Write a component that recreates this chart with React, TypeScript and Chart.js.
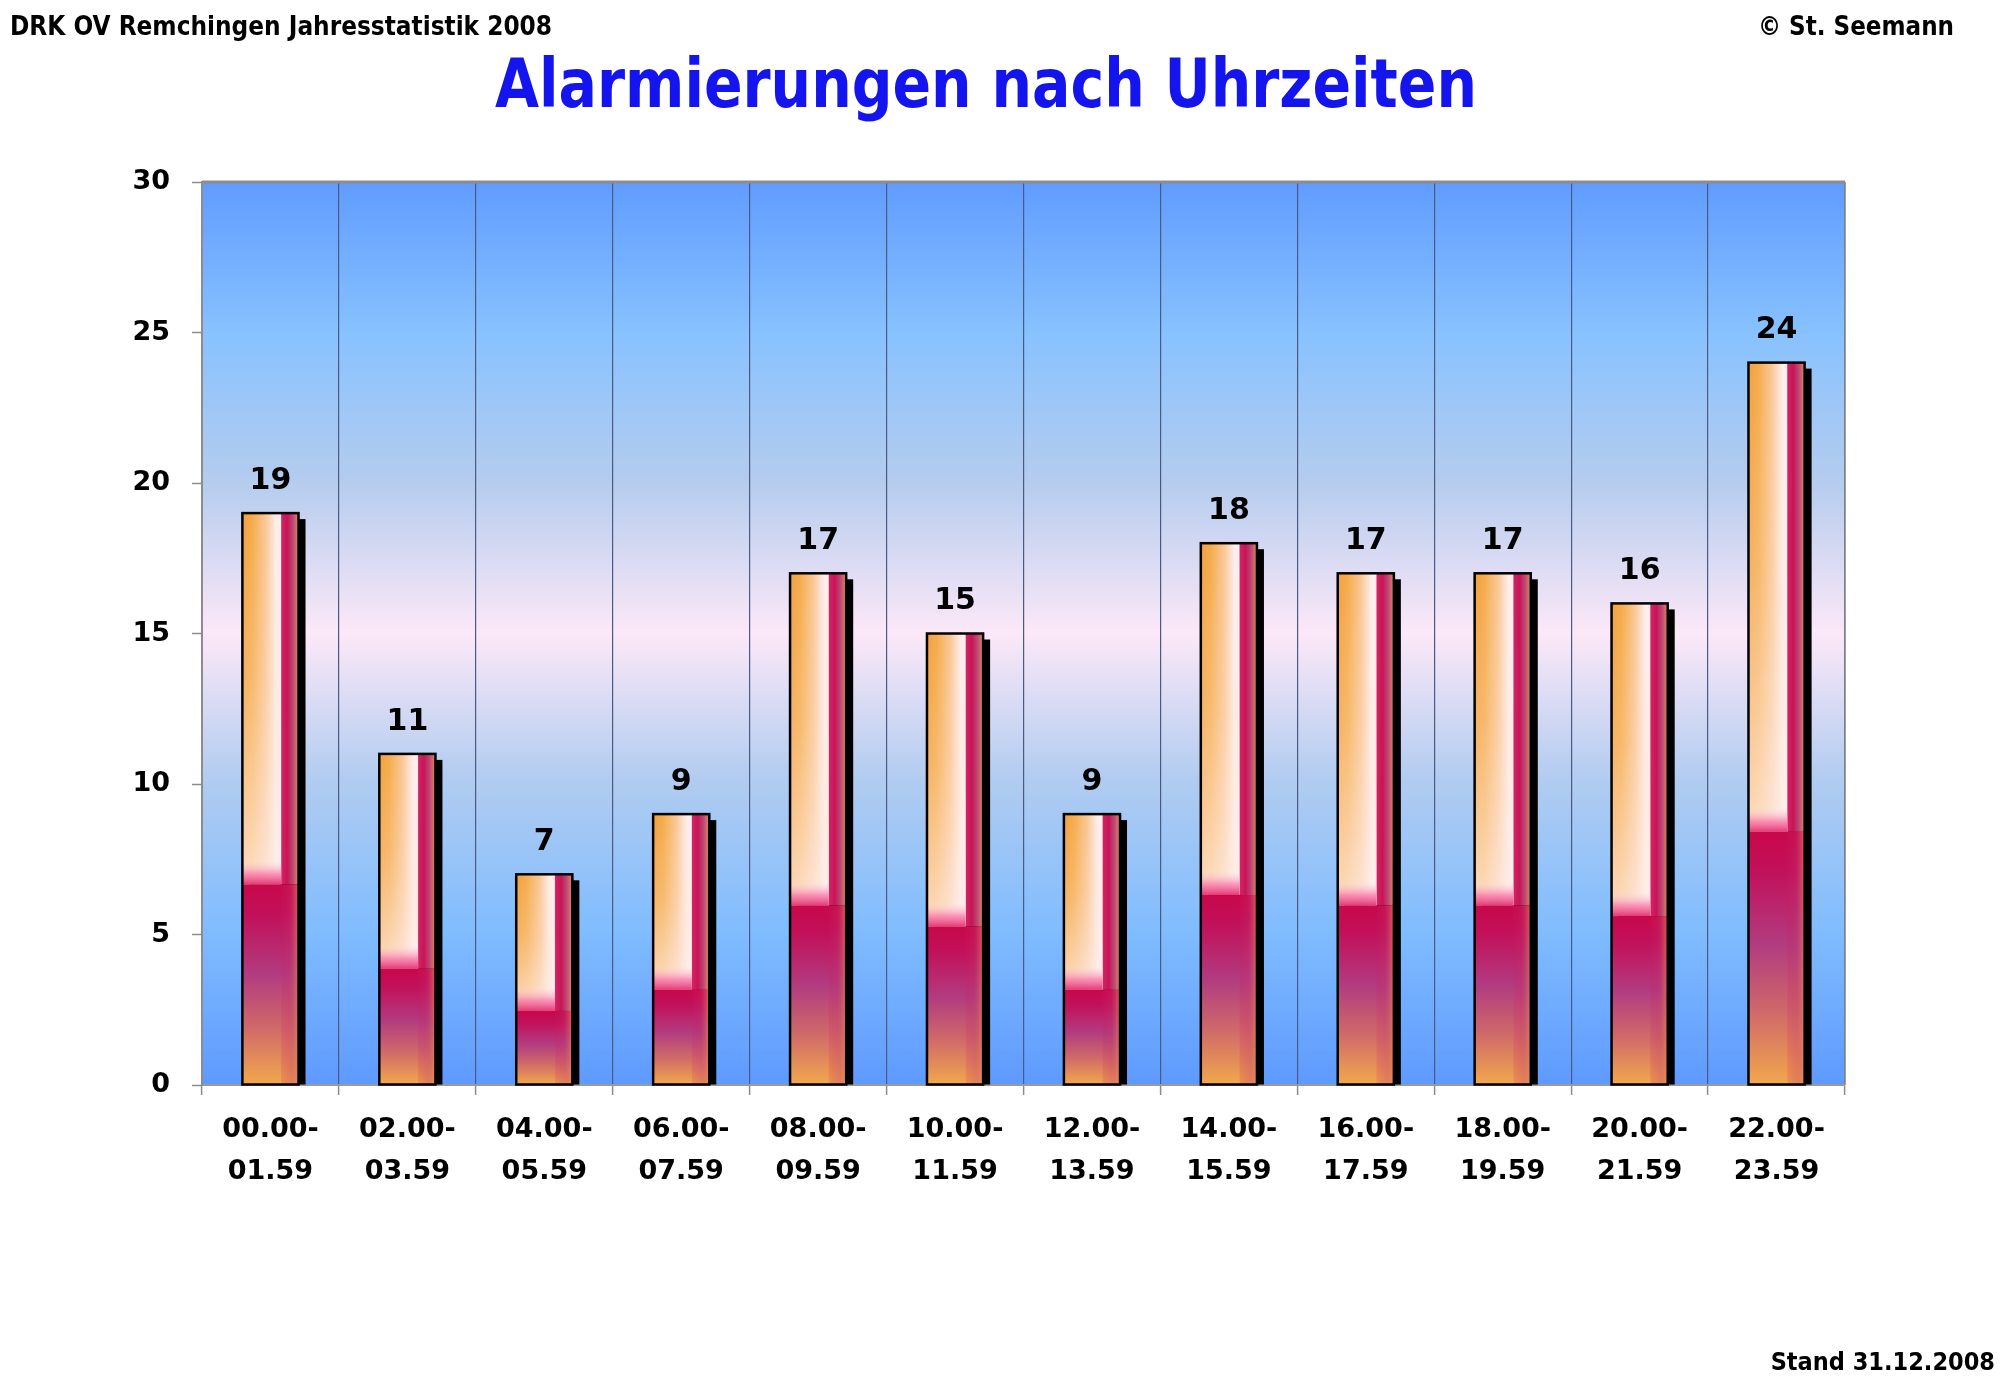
import React, { useEffect, useRef } from 'react';
import { Chart, registerables } from 'chart.js';

Chart.register(...registerables);

const categories: string[][] = [
  ['00.00-', '01.59'],
  ['02.00-', '03.59'],
  ['04.00-', '05.59'],
  ['06.00-', '07.59'],
  ['08.00-', '09.59'],
  ['10.00-', '11.59'],
  ['12.00-', '13.59'],
  ['14.00-', '15.59'],
  ['16.00-', '17.59'],
  ['18.00-', '19.59'],
  ['20.00-', '21.59'],
  ['22.00-', '23.59'],
];
const values: number[] = [19, 11, 7, 9, 17, 15, 9, 18, 17, 17, 16, 24];
const yMin = 0;
const yMax = 30;
const yStep = 5;

const headerLeft = 'DRK OV Remchingen Jahresstatistik 2008';
const headerRight = '© St. Seemann';
const titleText = 'Alarmierungen nach Uhrzeiten';
const footerText = 'Stand 31.12.2008';

const FONT = '"DejaVu Sans Condensed", "DejaVu Sans", sans-serif';
const FONT_WIDE = '"DejaVu Sans", sans-serif';

function drawFitted(
  ctx: CanvasRenderingContext2D,
  text: string,
  x: number,
  y: number,
  align: CanvasTextAlign,
  size: number,
  maxW: number,
  color: string,
  family: string
) {
  ctx.save();
  ctx.font = `bold ${size}px ${family}`;
  const w = ctx.measureText(text).width;
  const sx = w > maxW ? maxW / w : 1;
  ctx.translate(x, y);
  ctx.scale(sx, 1);
  ctx.textAlign = align;
  ctx.textBaseline = 'alphabetic';
  ctx.fillStyle = color;
  ctx.fillText(text, 0, 0);
  ctx.restore();
}

function drawFancyBar(ctx: CanvasRenderingContext2D, x: number, top: number, base: number, w: number) {
  const left = x - w / 2;
  const right = x + w / 2;
  const h = base - top;
  if (h <= 0) return;
  ctx.save();
  // shadow
  ctx.fillStyle = '#000';
  ctx.fillRect(left + 7, top + 6, w, h - 6);

  const split = base - h * 0.35;
  const splitX = left + w * 0.69;

  // upper region
  const hg = ctx.createLinearGradient(left, 0, right, 0);
  hg.addColorStop(0, '#F2A040');
  hg.addColorStop(0.18, '#F5AC4C');
  hg.addColorStop(0.42, '#F9C898');
  hg.addColorStop(0.6, '#FFEDEA');
  hg.addColorStop(0.68, '#FFF0F2');
  hg.addColorStop(0.7, '#D42262');
  hg.addColorStop(0.8, '#C61558');
  hg.addColorStop(0.9, '#BE4A74');
  hg.addColorStop(1, '#DC8A60');
  ctx.fillStyle = hg;
  ctx.fillRect(left, top, w, split - top);

  const vg = ctx.createLinearGradient(0, top, 0, split);
  vg.addColorStop(0, 'rgba(255,230,210,0)');
  vg.addColorStop(0.45, 'rgba(255,228,210,0.25)');
  vg.addColorStop(1, 'rgba(255,238,234,0.75)');
  ctx.fillStyle = vg;
  ctx.fillRect(left, top, splitX - left, split - top);

  // pink band above split
  const bandH = Math.min(24, (split - top) * 0.5);
  const pb = ctx.createLinearGradient(0, split - bandH, 0, split);
  pb.addColorStop(0, 'rgba(255,210,225,0)');
  pb.addColorStop(0.55, 'rgba(248,120,170,0.75)');
  pb.addColorStop(1, '#E63878');
  ctx.fillStyle = pb;
  ctx.fillRect(left, split - bandH, splitX - left, bandH);

  // lower region
  const lg = ctx.createLinearGradient(0, split, 0, base);
  lg.addColorStop(0, '#C8084A');
  lg.addColorStop(0.15, '#C2105A');
  lg.addColorStop(0.45, '#B23C80');
  lg.addColorStop(0.72, '#D06A68');
  lg.addColorStop(1, '#F2A84C');
  ctx.fillStyle = lg;
  ctx.fillRect(left, split, w, base - split);

  const rg = ctx.createLinearGradient(splitX, 0, right, 0);
  rg.addColorStop(0, 'rgba(205,25,90,0.15)');
  rg.addColorStop(0.5, 'rgba(195,50,105,0.3)');
  rg.addColorStop(1, 'rgba(225,135,95,0.7)');
  ctx.fillStyle = rg;
  ctx.fillRect(splitX, split, right - splitX, base - split);

  // border
  ctx.lineWidth = 2.5;
  ctx.strokeStyle = '#000';
  ctx.strokeRect(left, top, w, h);
  ctx.restore();
}

const decorPlugin = {
  id: 'decor',
  beforeDraw(chart: any) {
    const { ctx, chartArea: a } = chart;
    ctx.save();
    ctx.fillStyle = '#fff';
    ctx.fillRect(0, 0, chart.width, chart.height);
    const g = ctx.createLinearGradient(0, a.top, 0, a.bottom);
    g.addColorStop(0, '#609CFF');
    g.addColorStop(0.17, '#88C2FF');
    g.addColorStop(0.33, '#B4CCEE');
    g.addColorStop(0.5, '#FCE8F8');
    g.addColorStop(0.66, '#B2CCF0');
    g.addColorStop(0.83, '#80BCFF');
    g.addColorStop(1, '#5E9AFF');
    ctx.fillStyle = g;
    ctx.fillRect(a.left, a.top, a.right - a.left, a.bottom - a.top);
    ctx.restore();
  },
  afterDatasetsDraw(chart: any) {
    const { ctx, chartArea: a } = chart;
    const meta = chart.getDatasetMeta(0);
    meta.data.forEach((el: any, i: number) => {
      const p = el.getProps(['x', 'y', 'base', 'width'], true);
      drawFancyBar(ctx, p.x, p.y, p.base, p.width);
      ctx.save();
      ctx.font = `bold 30px ${FONT_WIDE}`;
      ctx.fillStyle = '#000';
      ctx.textAlign = 'center';
      ctx.textBaseline = 'middle';
      ctx.fillText(String(values[i]), p.x, p.y - 32);
      ctx.restore();
    });
    // frame lines
    ctx.save();
    ctx.strokeStyle = '#8C8C8C';
    ctx.lineWidth = 3;
    ctx.beginPath();
    ctx.moveTo(a.left, a.top);
    ctx.lineTo(a.right, a.top);
    ctx.stroke();
    ctx.lineWidth = 1.5;
    ctx.beginPath();
    ctx.moveTo(a.right, a.top);
    ctx.lineTo(a.right, a.bottom);
    ctx.stroke();
    ctx.restore();
  },
  afterDraw(chart: any) {
    const ctx = chart.ctx;
    drawFitted(ctx, headerLeft, 10, 35, 'left', 27, 542, '#000', FONT);
    drawFitted(ctx, headerRight, 1954, 35, 'right', 27, 196, '#000', FONT);
    drawFitted(ctx, titleText, 986, 107, 'center', 68, 982, '#1414EE', FONT);
    drawFitted(ctx, footerText, 1995, 1370, 'right', 25, 238, '#000', FONT);
  },
};

export default function App() {
  const ref = useRef<HTMLCanvasElement>(null);
  useEffect(() => {
    const chart = new Chart(ref.current as HTMLCanvasElement, {
      type: 'bar',
      data: {
        labels: categories as any,
        datasets: [
          {
            data: values,
            backgroundColor: 'rgba(0,0,0,0)',
            borderWidth: 0,
            barPercentage: 0.41,
            categoryPercentage: 1,
          },
        ],
      },
      options: {
        animation: false,
        responsive: true,
        maintainAspectRatio: false,
        devicePixelRatio: 1,
        layout: { padding: { top: 182, right: 155, bottom: 0, left: 0 } },
        plugins: {
          legend: { display: false },
          title: { display: false },
          tooltip: { enabled: false },
        },
        scales: {
          x: {
            type: 'category',
            offset: true,
            grid: {
              display: true,
              offset: true,
              drawOnChartArea: true,
              color: '#4A5A82',
              lineWidth: 1.2,
              tickColor: '#8C8C8C',
              tickLength: 10,
              tickWidth: 1.5,
            },
            border: { display: true, color: '#9A9A9A', width: 2 },
            ticks: {
              color: '#000',
              font: { family: FONT_WIDE, size: 27, weight: 'bold', lineHeight: 42 / 27 },
              padding: 14,
              maxRotation: 0,
              minRotation: 0,
              autoSkip: false,
            },
            afterFit(scale: any) {
              scale.height = 1387 - 1085;
            },
          },
          y: {
            type: 'linear',
            min: yMin,
            max: yMax,
            grid: {
              display: true,
              drawOnChartArea: false,
              color: '#8C8C8C',
              tickColor: '#8C8C8C',
              tickLength: 10,
              tickWidth: 1.5,
            },
            border: { display: true, color: '#8C8C8C', width: 2 },
            ticks: {
              stepSize: yStep,
              color: '#000',
              font: { family: FONT_WIDE, size: 27, weight: 'bold' },
              padding: 22,
            },
            afterFit(scale: any) {
              scale.width = 202;
            },
          },
        },
      },
      plugins: [decorPlugin],
    } as any);
    return () => chart.destroy();
  }, []);
  return (
    <div style={{ position: 'absolute', left: 0, top: 0, width: 2000, height: 1387, background: '#fff' }}>
      <canvas ref={ref} />
    </div>
  );
}
